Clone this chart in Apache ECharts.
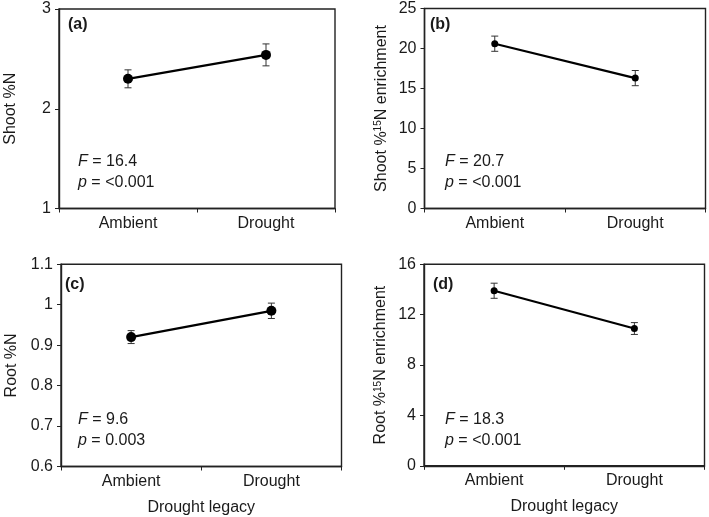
<!DOCTYPE html>
<html>
<head>
<meta charset="utf-8">
<script src="https://cdn.jsdelivr.net/npm/echarts@6/dist/echarts.min.js"></script>
<style>
html,body{margin:0;padding:0;background:#fff;}
#chart{width:709px;height:517px;}
</style>
</head>
<body>
<div id="chart"></div>
<script>
const categories = ['Ambient', 'Drought'];

const shootN = [2.30, 2.54];
const shootNErr = [0.09, 0.11];
const shoot15N = [20.6, 16.3];
const shoot15NErr = [0.95, 0.95];
const rootN = [0.92, 0.985];
const rootNErr = [0.016, 0.019];
const root15N = [13.9, 10.9];
const root15NErr = [0.6, 0.47];

const shootNTicks = [1, 2, 3];
const shoot15NTicks = [0, 5, 10, 15, 20, 25];
const rootNTicks = [0.6, 0.7, 0.8, 0.9, 1.0, 1.1];
const root15NTicks = [0, 4, 8, 12, 16];

const panelLabels = ['(a)', '(b)', '(c)', '(d)'];
const statF = ['16.4', '20.7', '9.6', '18.3'];
const statP = ['<0.001', '<0.001', '0.003', '<0.001'];
const yTitles = ['Shoot %N', 'Shoot %{sup|15}N enrichment', 'Root %N', 'Root %{sup|15}N enrichment'];
const xTitle = 'Drought legacy';

const FONT = 'Liberation Sans, Arial, sans-serif';
const TXT = '#1a1a1a';
const AX = '#222';

const grids = [
  {left: 59, top: 9, width: 276, height: 199.5},
  {left: 424.5, top: 8.5, width: 281, height: 200},
  {left: 61, top: 264.3, width: 280.5, height: 202.2},
  {left: 424, top: 264.3, width: 280.5, height: 201.5}
];
const nameGaps = [40, 35, 41, 35];
const symSizes = [10, 7, 10, 7];
const tickSets = [shootNTicks, shoot15NTicks, rootNTicks, root15NTicks];
const means = [shootN, shoot15N, rootN, root15N];
const errs = [shootNErr, shoot15NErr, rootNErr, root15NErr];

const option = {
  animation: false,
  backgroundColor: '#fff',
  textStyle: {fontFamily: FONT},
  grid: grids.map(g => Object.assign({show: true, borderColor: AX, borderWidth: 1.4, backgroundColor: 'transparent'}, g)),
  xAxis: grids.map((g, i) => ({
    type: 'category',
    gridIndex: i,
    data: categories,
    boundaryGap: true,
    axisLine: {lineStyle: {color: AX, width: 1.4}},
    axisTick: {show: true, inside: false, length: 4, alignWithLabel: false, lineStyle: {color: AX, width: 1}},
    axisLabel: {color: TXT, fontSize: 16, fontFamily: FONT, margin: 7},
    splitLine: {show: false},
    name: i >= 2 ? xTitle : '',
    nameLocation: 'middle',
    nameGap: 33,
    nameTextStyle: {color: TXT, fontSize: 16, fontFamily: FONT}
  })),
  yAxis: grids.map((g, i) => {
    const t = tickSets[i];
    const interval = +(t[1] - t[0]).toFixed(6);
    return {
      type: 'value',
      gridIndex: i,
      min: t[0],
      max: t[t.length - 1],
      interval: interval,
      axisLine: {show: true, lineStyle: {color: AX, width: 1.4}},
      axisTick: {show: true, inside: false, length: 4, lineStyle: {color: AX, width: 1}},
      axisLabel: {color: TXT, fontSize: 16, fontFamily: FONT, margin: 8,
        formatter: v => String(+v.toFixed(4))},
      splitLine: {show: false},
      name: yTitles[i],
      nameLocation: 'middle',
      nameRotate: 90,
      nameGap: nameGaps[i],
      nameTextStyle: {
        color: TXT, fontSize: 16, fontFamily: FONT,
        rich: {sup: {fontSize: 10, fontFamily: FONT, color: TXT, verticalAlign: 'top', padding: [0, 0, 6, 0]}}
      }
    };
  }),
  series: [],
  graphic: []
};

for (let i = 0; i < 4; i++) {
  const errData = categories.map((c, k) => [k, means[i][k] - errs[i][k], means[i][k] + errs[i][k]]);
  option.series.push({
    type: 'custom',
    xAxisIndex: i,
    yAxisIndex: i,
    data: errData,
    z: 1,
    renderItem: function (params, api) {
      const x = api.value(0);
      const lo = api.coord([x, api.value(1)]);
      const hi = api.coord([x, api.value(2)]);
      const cw = 3.5;
      const st = {stroke: '#333', lineWidth: 1, fill: null};
      return {
        type: 'group',
        children: [
          {type: 'line', shape: {x1: lo[0], y1: lo[1], x2: hi[0], y2: hi[1]}, style: st},
          {type: 'line', shape: {x1: lo[0] - cw, y1: lo[1], x2: lo[0] + cw, y2: lo[1]}, style: st},
          {type: 'line', shape: {x1: hi[0] - cw, y1: hi[1], x2: hi[0] + cw, y2: hi[1]}, style: st}
        ]
      };
    }
  });
  option.series.push({
    type: 'line',
    xAxisIndex: i,
    yAxisIndex: i,
    data: means[i],
    z: 3,
    symbol: 'circle',
    symbolSize: symSizes[i],
    itemStyle: {color: '#000'},
    lineStyle: {color: '#000', width: 2.2},
    silent: true
  });
}

const labelPos = [[68, 25], [430, 25], [65, 285], [433, 285]];
const statPos = [[78, 162], [445, 162], [78, 420], [445, 420]];
for (let i = 0; i < 4; i++) {
  option.graphic.push({
    type: 'text', x: labelPos[i][0], y: labelPos[i][1], z: 10,
    style: {text: panelLabels[i], fill: TXT, font: 'bold 16px ' + FONT, verticalAlign: 'middle', align: 'left'}
  });
  option.graphic.push({
    type: 'text', x: statPos[i][0], y: statPos[i][1], z: 10,
    style: {text: '{i|F} = ' + statF[i], fill: TXT, font: '16px ' + FONT, verticalAlign: 'middle', align: 'left',
      rich: {i: {fontStyle: 'italic', fontSize: 16, fontFamily: FONT, fill: TXT}}}
  });
  option.graphic.push({
    type: 'text', x: statPos[i][0], y: statPos[i][1] + 21, z: 10,
    style: {text: '{i|p} = ' + statP[i], fill: TXT, font: '16px ' + FONT, verticalAlign: 'middle', align: 'left',
      rich: {i: {fontStyle: 'italic', fontSize: 16, fontFamily: FONT, fill: TXT}}}
  });
}

const chart = echarts.init(document.getElementById('chart'), null, {renderer: 'canvas'});
chart.setOption(option);
</script>
</body>
</html>
